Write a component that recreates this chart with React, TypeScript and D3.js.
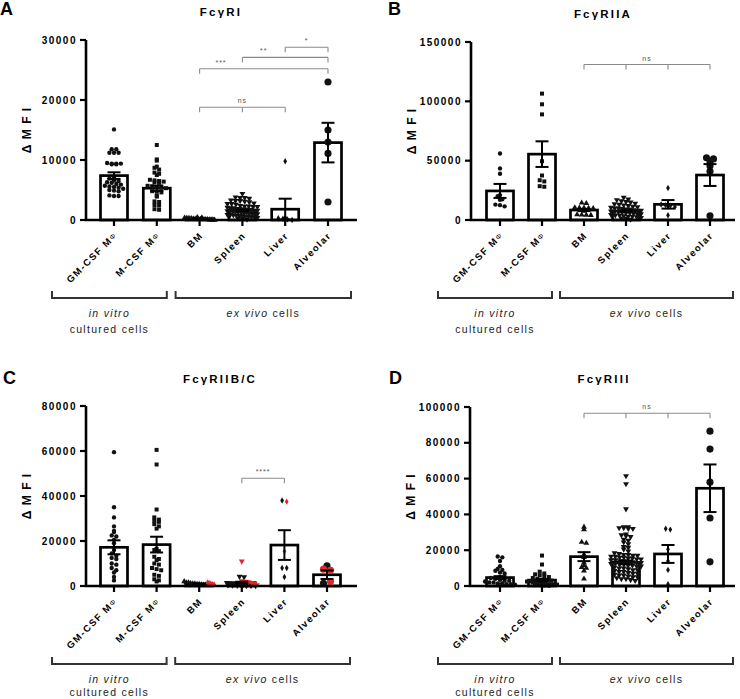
import React from 'react';
import * as d3 from 'd3';

// ---------------- DATA ----------------
const categories = ['GM-CSF MΦ', 'M-CSF MΦ', 'BM', 'Spleen', 'Liver', 'Alveolar'];

const A_ticks = [0, 10000, 20000, 30000];
const B_ticks = [0, 50000, 100000, 150000];
const C_ticks = [0, 20000, 40000, 60000, 80000];
const D_ticks = [0, 20000, 40000, 60000, 80000, 100000];

// Panel A  FcγRI
const A_means = [7400, 5300, 200, 1600, 1800, 12900];
const A_sems = [550, 450, 30, 120, 1750, 3300];
const A_gm = [15100, 11800, 11800, 11200, 11200, 11200, 9500, 9400, 9400, 9400, 9300, 9300, 7000, 6900, 6600, 6500, 6300, 6200, 6000, 5900, 5700, 5600, 5500, 5400, 5200, 5000, 4900, 4800, 4100, 4000, 4000];
const A_m = [12500, 10100, 9900, 8900, 8700, 8400, 7900, 7700, 7500, 6700, 6600, 6500, 6400, 6300, 6200, 5700, 5600, 5500, 5400, 5300, 4800, 4700, 4600, 4000, 3900, 3100, 3000, 2500, 2400, 1800, 1700];
const A_bm = [450, 400, 350, 300, 300, 250, 250, 200, 200, 200, 150, 150, 150, 100, 100, 100, 50, 50, 50, 0];
const A_spleen = [4400, 3800, 3700, 3700, 3600, 3300, 3200, 3200, 3100, 3000, 2800, 2700, 2700, 2600, 2400, 2300, 2300, 2200, 2200, 2100, 2000, 2000, 1900, 1900, 1800, 1800, 1700, 1700, 1600, 1600, 1500, 1500, 1400, 1400, 1300, 1300, 1200, 1200, 1100, 1100, 1000, 1000, 900, 900, 800, 800, 700, 700, 600, 600, 500, 500, 400, 300, 200, 100];
const A_liver = [9800, 400, 300, 200, 100, 0];
const A_alv = [23000, 15000, 13000, 11100, 3000];

// Panel B  FcγRIIA
const B_means = [24500, 55500, 8400, 7600, 13200, 37900];
const B_sems = [5900, 10800, 900, 600, 3600, 9200];
const B_gm = [56000, 43500, 39000, 21000, 20000, 17500, 17000, 13000, 12500, 11500];
const B_m = [106500, 97500, 89000, 49500, 37500, 33500, 32500, 28500, 28000];
const B_bm = [14500, 14000, 10500, 10300, 10200, 10000, 9800, 7500, 4500, 4300, 4200, 4000];
const B_spleen = [19000, 17500, 17000, 16000, 15500, 15000, 14000, 13500, 13000, 12500, 12000, 11500, 11000, 10500, 10000, 10000, 9500, 9000, 9000, 8500, 8000, 8000, 7500, 7000, 7000, 6500, 6000, 6000, 5500, 5000, 5000, 4500, 4000, 4000, 3500, 3000, 3000, 2500, 2000, 1500, 1000, 500];
const B_liver = [27000, 13000, 12500, 12000, 11000, 4000];
const B_alv = [52500, 51500, 49000, 45500, 41000, 3500];

// Panel C  FcγRIIB/C  (black and red points)
const C_means = [17200, 18400, 900, 1500, 18200, 5000];
const C_sems = [3100, 3500, 150, 400, 6600, 1900];
const C_gm = [59500, 35000, 30500, 26500, 24500, 24000, 22500, 22000, 20500, 19000, 16000, 14500, 13500, 12500, 12000, 10000, 9500, 8000, 7000, 6000, 4000, 2500];
const C_m = [60500, 54000, 34000, 30500, 29500, 29000, 28500, 27500, 26500, 25500, 16500, 16000, 15500, 13000, 12000, 11500, 10000, 9500, 8000, 7500, 7000, 5000, 4500, 3000, 2500, 2000];
const C_bm = [2000, 1500, 1500, 1200, 1000, 1000, 800, 800, 600, 500, 500, 300];
const C_bmRed = [1500, 1200, 800, 500, 300];
const C_spleen = [4200, 4000, 1500, 1200, 1000, 800, 700, 600, 500, 400, 300, 200, 200, 100, 100, 50];
const C_spleenRed = [11000, 2200, 2000, 1800, 1500, 1000, 500];
const C_liver = [38000, 8000, 8000, 4000];
const C_liverRed = [37500, 15500];
const C_alv = [9000, 1200];
const C_alvRed = [7500, 7000, 2000];

// Panel D  FcγRIII
const D_means = [4700, 3300, 16400, 13200, 17900, 54600];
const D_sems = [800, 600, 2500, 1000, 5000, 13300];
const D_gm = [16500, 16000, 14000, 11000, 9500, 9000, 8500, 7500, 7000, 5000, 4500, 4000, 3500, 3000, 3000, 2500, 2000, 2000, 1500, 1500, 1000, 1000, 800, 500, 500];
const D_m = [17000, 12000, 8000, 7000, 6500, 6000, 5500, 5000, 4500, 4000, 3500, 3000, 3000, 2500, 2500, 2000, 2000, 1500, 1500, 1500, 1000, 1000, 1000, 800, 500, 500, 300, 200];
const D_bm = [33000, 31500, 24500, 24000, 17500, 16000, 13000, 11500, 10500, 10000, 8500, 4000];
const D_spleen = [61500, 57000, 43000, 33000, 33000, 32500, 32500, 32000, 32000, 29000, 28500, 28000, 27500, 26000, 25500, 24500, 23500, 22000, 21500, 20500, 19500, 18500, 18000, 17500, 17500, 17000, 17000, 16500, 16500, 16000, 16000, 15500, 15500, 15000, 15000, 14500, 14500, 14000, 14000, 13500, 13500, 13000, 13000, 12500, 12500, 12000, 12000, 11500, 11500, 11000, 11000, 10500, 10000, 10000, 9500, 9000, 9000, 8500, 8000, 8000, 7500, 7000, 7000, 6500, 6000, 6000, 5500, 5000, 5000, 4500, 4000, 4000, 3500, 3000];
const D_liver = [32000, 31500, 20500, 14000, 9000, 1000];
const D_alv = [86500, 76500, 58000, 38000, 13500];

// significance brackets: from/to category index, value height, label, label position (category index), tick indices
const A_sig = [
  { from: 2, to: 5, y: 25200, label: '***', at: 2.5, ticks: [2, 5] },
  { from: 3, to: 5, y: 27100, label: '**', at: 3.5, ticks: [3, 5] },
  { from: 4, to: 5, y: 28800, label: '*', at: 4.5, ticks: [4, 5] },
  { from: 2, to: 4, y: 18800, label: 'ns', at: 3, ticks: [2, 3, 4] },
];
const B_sig = [{ from: 2, to: 5, y: 131000, label: 'ns', at: 3.5, ticks: [2, 3, 4, 5] }];
const C_sig = [{ from: 3, to: 4, y: 47900, label: '****', at: 3.5, ticks: [3, 4] }];
const D_sig = [{ from: 2, to: 5, y: 96500, label: 'ns', at: 3.5, ticks: [2, 3, 4, 5] }];

// ---------------- LAYOUT / STYLE ----------------
const FONT = '"Liberation Sans", Arial, Helvetica, sans-serif';
const RED = '#e3262b';
const INK = '#111';

const panels = [
  {
    letter: 'A', title: 'FcγRI', letterX: 0, letterY: 15, titleX: 221, titleY: 16,
    axisX: 86, xFirst: 114, xLast: 328, xEnd: 357, y0: 220, yTop: 40, yMax: 30000, footY: 113,
    ticks: A_ticks, means: A_means, sems: A_sems, sig: A_sig,
    groups: [A_gm, A_m, A_bm, A_spleen, A_liver, A_alv], reds: [[], [], [], [], [], []],
  },
  {
    letter: 'B', title: 'FcγRIIA', letterX: 388, letterY: 15, titleX: 603, titleY: 18,
    axisX: 471, xFirst: 500, xLast: 710, xEnd: 735, y0: 220, yTop: 42, yMax: 150000, footY: 113,
    ticks: B_ticks, means: B_means, sems: B_sems, sig: B_sig,
    groups: [B_gm, B_m, B_bm, B_spleen, B_liver, B_alv], reds: [[], [], [], [], [], []],
  },
  {
    letter: 'C', title: 'FcγRIIB/C', letterX: 3, letterY: 384, titleX: 220, titleY: 383,
    axisX: 86, xFirst: 114, xLast: 327, xEnd: 357, y0: 586, yTop: 406, yMax: 80000, footY: 110,
    ticks: C_ticks, means: C_means, sems: C_sems, sig: C_sig,
    groups: [C_gm, C_m, C_bm, C_spleen, C_liver, C_alv],
    reds: [[], [], C_bmRed, C_spleenRed, C_liverRed, C_alvRed],
  },
  {
    letter: 'D', title: 'FcγRIII', letterX: 389, letterY: 384, titleX: 604, titleY: 383,
    axisX: 470, xFirst: 500, xLast: 710, xEnd: 735, y0: 586, yTop: 407, yMax: 100000, footY: 110,
    ticks: D_ticks, means: D_means, sems: D_sems, sig: D_sig,
    groups: [D_gm, D_m, D_bm, D_spleen, D_liver, D_alv], reds: [[], [], [], [], [], []],
  },
];

const symbolTypes = [d3.symbolCircle, d3.symbolSquare, d3.symbolTriangle, d3.symbolTriangle, d3.symbolDiamond, d3.symbolCircle];
const symbolFlip = [false, false, false, true, false, false];
const symbolSizes = [15, 16, 15, 15, 12, 40];
const BAR_W = 27;
const CAP_W = 13;

// row-based scatter layout (GraphPad-like): points in same pixel row spread horizontally
function scatterOffsets(py: number[], rowH: number, spacing: number, maxHalf: number): number[] {
  const bins = new Map<number, number[]>();
  py.forEach((y, i) => {
    const b = Math.round(y / rowH);
    if (!bins.has(b)) bins.set(b, []);
    bins.get(b)!.push(i);
  });
  const off = new Array(py.length).fill(0);
  bins.forEach((idx) => {
    const n = idx.length;
    let sp = spacing;
    if ((n - 1) * sp / 2 > maxHalf) sp = (2 * maxHalf) / (n - 1);
    idx.forEach((i, j) => {
      off[i] = (j - (n - 1) / 2) * sp;
    });
  });
  return off;
}

function Panel({ p }: { p: (typeof panels)[number] }) {
  const x = d3.scalePoint<number>().domain(d3.range(categories.length)).range([p.xFirst, p.xLast]);
  const y = d3.scaleLinear().domain([0, p.yMax]).range([p.y0, p.yTop]);
  const fmt = d3.format('d');

  const inVitroL = x(0)! - 62, inVitroR = x(1)! + 10;
  const exVivoL = x(2)! - 24, exVivoR = x(5)! + 23;
  const brY = p.y0 + 78;

  return (
    <g>
      <text x={p.letterX} y={p.letterY} fontFamily={FONT} fontWeight="bold" fontSize={18} fill="#000">{p.letter}</text>
      <text x={p.titleX} y={p.titleY} textAnchor="middle" fontFamily={FONT} fontWeight="bold" fontSize={11.5} letterSpacing={2.2} fill="#000">{p.title}</text>
      <text transform={`translate(${p.axisX - 55},${(p.y0 + p.yTop) / 2}) rotate(-90)`} textAnchor="middle" fontFamily={FONT} fontWeight="bold" fontSize={12} letterSpacing={1} fill="#000">Δ M F I</text>

      {/* bars */}
      {p.means.map((m, i) => (
        <rect key={'bar' + i} x={x(i)! - BAR_W / 2} y={y(m)} width={BAR_W} height={p.y0 - y(m)} fill="#fff" stroke="#000" strokeWidth={2.7} />
      ))}

      {/* points */}
      {p.groups.map((vals, gi) => {
        const reds = p.reds[gi];
        const all = [...vals.map((v) => ({ v, red: false })), ...reds.map((v) => ({ v, red: true }))];
        const py = all.map((d) => y(d.v));
        const offs = scatterOffsets(py, gi === 5 ? 6 : 3.6, gi === 5 ? 7 : 4.6, 15);
        const path = d3.symbol().type(symbolTypes[gi]).size(symbolSizes[gi])()!;
        return all.map((d, k) => (
          <path key={`pt${gi}-${k}`} d={path} fill={d.red ? RED : INK}
            transform={`translate(${x(gi)! + offs[k]},${py[k]})${symbolFlip[gi] ? ' rotate(180)' : ''}`} />
        ));
      })}

      {/* error bars */}
      {p.means.map((m, i) => {
        const cx = x(i)!;
        const top = y(m + p.sems[i]);
        const bot = y(Math.max(0, m - p.sems[i]));
        return (
          <g key={'err' + i} stroke="#000" strokeWidth={2}>
            <line x1={cx} x2={cx} y1={top} y2={bot} />
            <line x1={cx - CAP_W / 2} x2={cx + CAP_W / 2} y1={top} y2={top} />
            <line x1={cx - CAP_W / 2} x2={cx + CAP_W / 2} y1={bot} y2={bot} />
          </g>
        );
      })}

      {/* axes */}
      <line x1={p.axisX} x2={p.axisX} y1={p.y0 + 1} y2={p.yTop} stroke="#000" strokeWidth={2.6} />
      <line x1={p.axisX - 1} x2={p.xEnd} y1={p.y0} y2={p.y0} stroke="#000" strokeWidth={2.6} />
      {p.ticks.map((t) => (
        <g key={'yt' + t}>
          <line x1={p.axisX - 6} x2={p.axisX} y1={y(t)} y2={y(t)} stroke="#000" strokeWidth={2.2} />
          <text x={p.axisX - 9} y={y(t) + 3.6} textAnchor="end" fontFamily={FONT} fontWeight="bold" fontSize={10} letterSpacing={1.5} fill="#000">{fmt(t)}</text>
        </g>
      ))}
      {categories.map((c, i) => {
        const hasPhi = c.endsWith('Φ');
        const main = hasPhi ? c.slice(0, -1) : c;
        return (
          <g key={'xt' + i}>
            <line x1={x(i)} x2={x(i)} y1={p.y0} y2={p.y0 + 6} stroke="#000" strokeWidth={2.2} />
            <text transform={`translate(${x(i)! + 4},${p.y0 + 16}) rotate(-45)`} textAnchor="end" fontFamily={FONT} fontWeight="bold" fontSize={9.5} letterSpacing={1.5} fill="#000">
              {main}
              {hasPhi && <tspan fontSize={7} fontWeight="normal" dy={-1}>Φ</tspan>}
            </text>
          </g>
        );
      })}

      {/* significance brackets */}
      {p.sig.map((s, k) => {
        const yy = y(s.y);
        const lx = p.xFirst + (s.at / (categories.length - 1)) * (p.xLast - p.xFirst);
        return (
          <g key={'sig' + k}>
            <line x1={x(s.from)} x2={x(s.to)} y1={yy} y2={yy} stroke="#8a8a8a" strokeWidth={1.1} />
            {s.ticks.map((t) => (
              <line key={t} x1={x(t)} x2={x(t)} y1={yy} y2={yy + 5} stroke="#8a8a8a" strokeWidth={1.1} />
            ))}
            <text x={lx} y={yy - 4} textAnchor="middle" fontFamily={FONT} fontSize={7} letterSpacing={1} fill="#555">{s.label}</text>
          </g>
        );
      })}

      {/* group brackets */}
      <g stroke="#333" strokeWidth={2} fill="none">
        <path d={`M${inVitroL},${brY - 7}V${brY}H${inVitroR}V${brY - 7}`} />
        <path d={`M${exVivoL},${brY - 7}V${brY}H${exVivoR}V${brY - 7}`} />
      </g>
      <g fontFamily={FONT} fontSize={10.5} letterSpacing={1.3} fill="#222" textAnchor="middle">
        <text x={(inVitroL + inVitroR) / 2} y={p.y0 + 96.5} fontStyle="italic">in vitro</text>
        <text x={(inVitroL + inVitroR) / 2} y={p.y0 + p.footY}>cultured cells</text>
        <text x={(exVivoL + exVivoR) / 2} y={p.y0 + 96.5}>
          <tspan fontStyle="italic">ex vivo</tspan> cells
        </text>
      </g>
    </g>
  );
}

export default function App() {
  return (
    <svg width={740} height={699} viewBox="0 0 740 699" style={{ position: 'absolute', left: 0, top: 0, background: '#fff' }}>
      <rect width={740} height={699} fill="#fff" />
      {panels.map((p) => (
        <Panel key={p.letter} p={p} />
      ))}
    </svg>
  );
}
